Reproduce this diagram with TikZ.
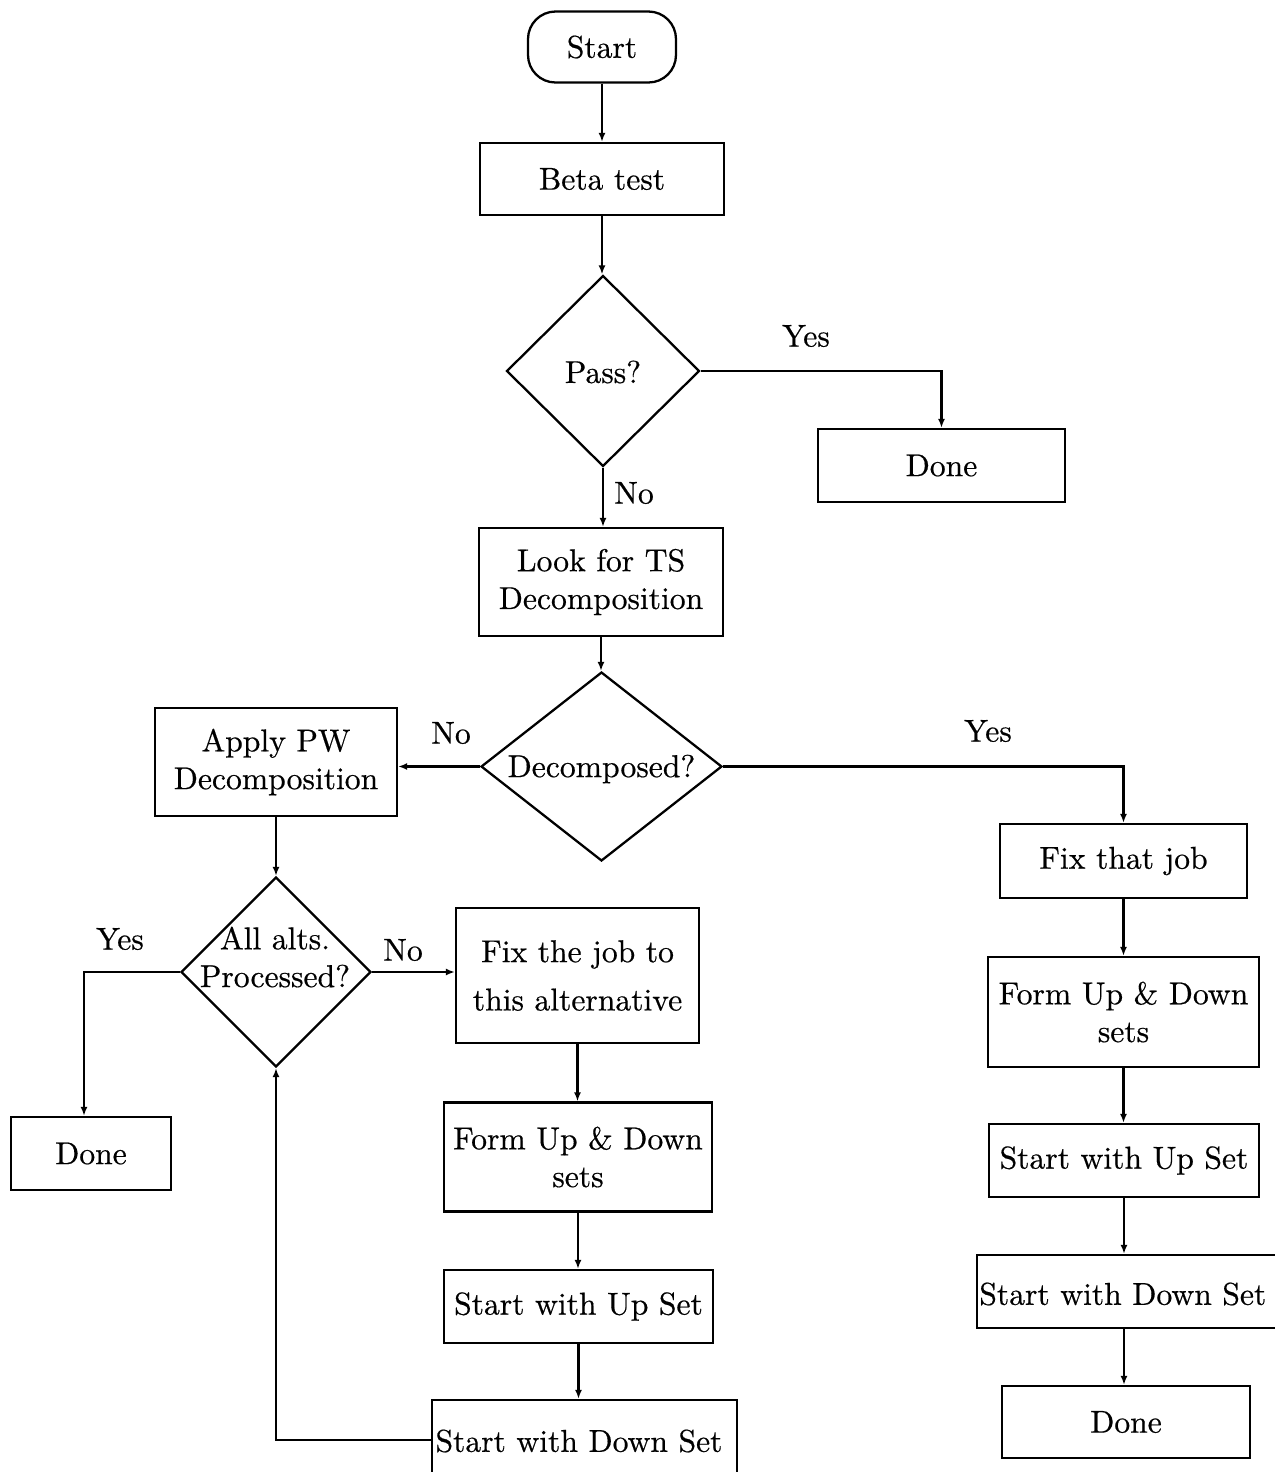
\documentclass[tikz,border=0pt]{standalone}
\usepackage{fontspec}
\usetikzlibrary{shapes.geometric,arrows.meta}

% ten-point design of Latin Modern, enlarged, for all labels
\newfontfamily\flowfont{lmroman10-regular.otf}[FakeBold=0.5]

\tikzset{
  every node/.style={font=\flowfont\fontsize{18}{21.5}\selectfont},
  flow/.style={draw, line width=1.3pt, rectangle, inner sep=2pt, align=center},
  term/.style={flow, rounded corners=0.55cm},
  dia/.style={draw, line width=1.3pt, diamond, inner sep=0pt},
  tag/.style={inner sep=0pt},
  arr/.style={line width=1.3pt, -{Latex[length=1.8mm,width=1.4mm]}},
}

\begin{document}
\begin{tikzpicture}[x=0.02cm, y=-0.02cm]
  \useasboundingbox (0,0) rectangle (1275,1472);
  \clip (0,0) rectangle (1275,1472);

  % main column
  \node[term, minimum width=2.96cm, minimum height=1.42cm] (start) at (602,47) {Start};
  \node[flow, minimum width=4.88cm, minimum height=1.44cm] (beta) at (602,179) {Beta test};
  \node[dia, minimum width=3.86cm, minimum height=3.82cm] (pass) at (603,371) {};
  \node[tag] (passT) at (603,372) {Pass?};
  \node[flow, minimum width=4.94cm, minimum height=1.46cm] (done1) at (941.5,465.5) {Done};
  \node[flow, minimum width=4.88cm, minimum height=2.16cm] (look) at (601,582)
       {Look for TS\\Decomposition};
  \node[dia, minimum width=4.82cm, minimum height=3.78cm] (dec) at (601.5,766.5) {};
  \node[tag] (decT) at (601.5,769) {Decomposed?};

  % right branch
  \node[flow, minimum width=4.94cm, minimum height=1.48cm] (fixthat) at (1123.5,861) {Fix that job};
  \node[flow, minimum width=5.42cm, minimum height=2.2cm] (formR) at (1123.5,1012)
       {Form Up \& Down\\sets};
  \node[flow, minimum width=5.4cm, minimum height=1.46cm] (upR) at (1124,1160.5) {Start with Up Set};
  \node[flow, minimum width=6.3cm, minimum height=1.46cm] (downR) at (1134.5,1291.5) {};
  \node[tag, anchor=west] (downRT) at (979,1294) {Start with Down Set};
  \node[flow, minimum width=4.96cm, minimum height=1.44cm] (doneR) at (1126,1422) {Done};

  % left branch
  \node[flow, minimum width=4.84cm, minimum height=2.16cm] (apply) at (276,762)
       {Apply PW\\Decomposition};
  \node[dia, minimum width=3.8cm, minimum height=3.8cm] (alts) at (276,972) {};
  \node[tag, align=center] (altsT) at (275,957) {All alts.\\Processed?};
  \node[flow, minimum width=3.2cm, minimum height=1.46cm] (doneL) at (91,1153.5) {Done};
  \node[flow, minimum width=4.86cm, minimum height=2.7cm, font=\flowfont\fontsize{18}{27.5}\selectfont]
       (fixjob) at (577.5,975.5) {Fix the job to\\this alternative};
  \node[flow, minimum width=5.36cm, minimum height=2.18cm] (formM) at (578,1157)
       {Form Up \& Down\\sets};
  \node[flow, minimum width=5.38cm, minimum height=1.46cm] (upM) at (578.5,1306.5) {Start with Up Set};
  \node[flow, minimum width=6.1cm, minimum height=1.6cm] (downM) at (584.5,1440) {};
  \node[tag] (downMT) at (579,1441) {Start with Down Set};

  % branch labels
  \node[tag] (l1) at (806,336) {Yes};
  \node[tag] (l2) at (634,493) {No};
  \node[tag] (l3) at (451,733) {No};
  \node[tag] (l4) at (988,731) {Yes};
  \node[tag] (l5) at (120,939) {Yes};
  \node[tag] (l6) at (403,950) {No};

  % connectors
  \draw[arr] (start) -- (start |- beta.north);
  \draw[arr] (beta) -- (beta |- pass.north);
  \draw[arr] (pass.east) -| (done1.north);
  \draw[arr] (pass.south) -- (pass.south |- look.north);
  \draw[arr] (look) -- (look |- dec.north);
  \draw[arr] (dec.west) -- (dec.west -| apply.east);
  \draw[arr] (dec.east) -| (fixthat.north);
  \draw[arr] (fixthat) -- (fixthat |- formR.north);
  \draw[arr] (formR) -- (formR |- upR.north);
  \draw[arr] (upR.south) -- (upR.south |- downR.north);
  \draw[arr] (upR.south |- downR.south) -- (upR.south |- doneR.north);
  \draw[arr] (apply.south) -- (apply.south |- alts.north);
  \draw[arr] (alts.west) -| ([xshift=-0.14cm]doneL.north);
  \draw[arr] (alts.east) -- (alts.east -| fixjob.west);
  \draw[arr] (fixjob) -- (fixjob |- formM.north);
  \draw[arr] (formM) -- (formM |- upM.north);
  \draw[arr] (upM.south) -- (upM.south |- downM.north);
  \draw[arr] (downM.west) -| (alts.south);
\end{tikzpicture}
\end{document}
